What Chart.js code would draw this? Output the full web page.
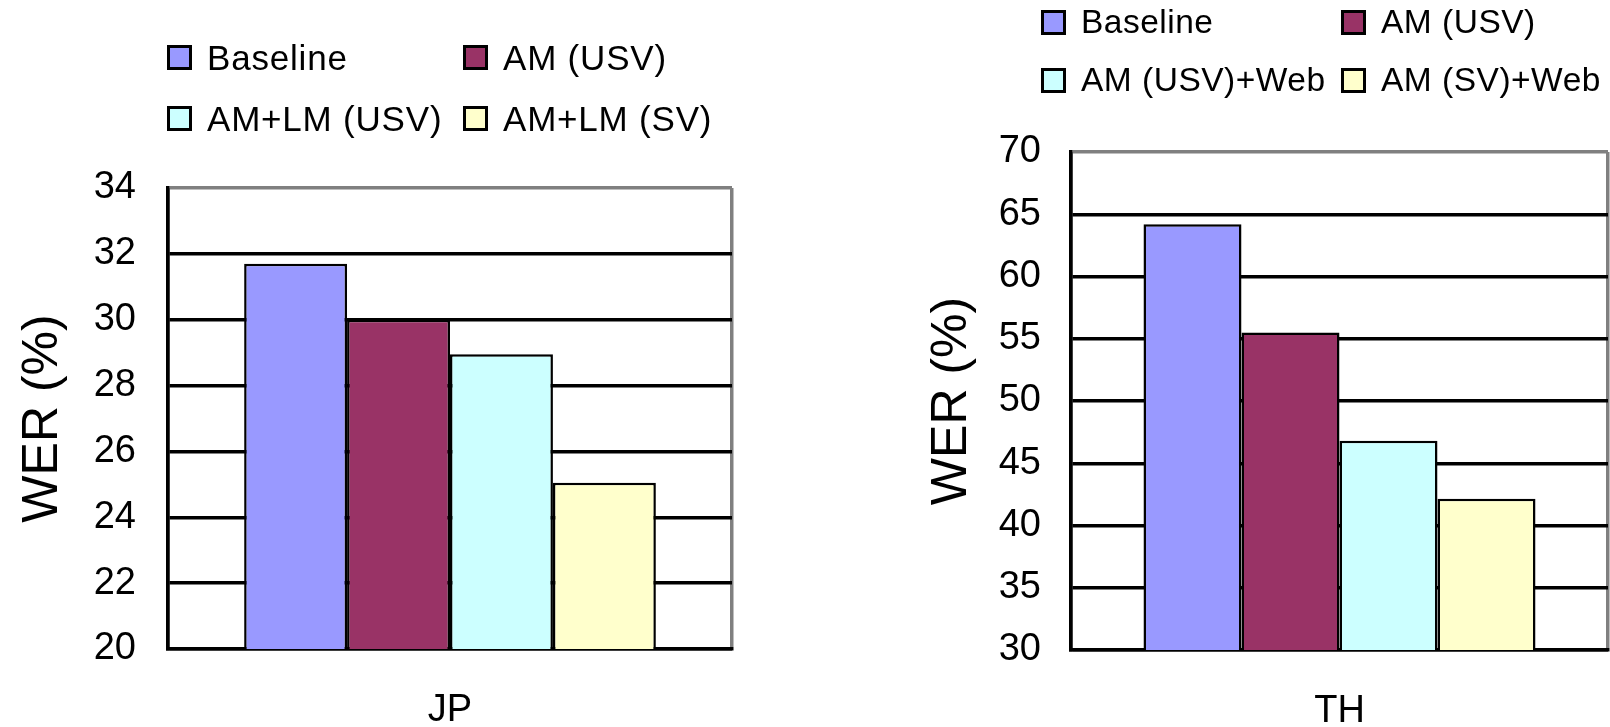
<!DOCTYPE html>
<html>
<head>
<meta charset="utf-8">
<script src="https://cdn.jsdelivr.net/npm/chart.js@4"></script>
<style>
  body { margin: 0; background: #fff; }
  #wrap { position: relative; width: 1610px; height: 727px; overflow: hidden; font-family: "Liberation Sans", Arial, sans-serif; }
  .box { position: absolute; top: 0; }
  .legend { position: absolute; display: grid; }
  .item { display: flex; align-items: center; color: #000; white-space: nowrap; }
  #jpLegend .item { font-size: 35px; letter-spacing: 0.8px; }
  #thLegend .item { font-size: 33.5px; letter-spacing: 0.5px; }
  .swatch { width: 25px; height: 25px; border: 3px solid #000; box-sizing: border-box; margin-right: 15px; flex: none; }
</style>
</head>
<body>
<div id="wrap">
  <div class="box" style="left:0;width:760px;height:727px"><canvas id="jp" width="760" height="727"></canvas></div>
  <div class="box" style="left:890px;width:720px;height:727px"><canvas id="th" width="720" height="727"></canvas></div>
  <div id="jpLegend" class="legend" style="left:167px;top:27px;grid-template-columns:296px 296px;grid-auto-rows:61px"></div>
  <div id="thLegend" class="legend" style="left:1041px;top:-7px;grid-template-columns:300px 270px;grid-auto-rows:58px"></div>
</div>
<script>
// JP chart
const jpCategories = ['JP'];
const jpSeries = ['Baseline', 'AM (USV)', 'AM+LM (USV)', 'AM+LM (SV)'];
const jpWer = [31.7, 30.0, 28.95, 25.05];
const jpTicks = [20, 22, 24, 26, 28, 30, 32, 34];

// TH chart
const thCategories = ['TH'];
const thSeries = ['Baseline', 'AM (USV)', 'AM (USV)+Web', 'AM (SV)+Web'];
const thWer = [64.2, 55.5, 46.8, 42.15];
const thTicks = [30, 35, 40, 45, 50, 55, 60, 65, 70];

const fills = ['#9999FF', '#993366', '#CCFFFF', '#FFFFCC'];
const FONT = '"Liberation Sans", Arial, sans-serif';

function makeChart(id, categories, series, values, ticks, lay) {
  const datasets = series.map((name, i) => ({
    label: name,
    data: [values[i]],
    backgroundColor: fills[i],
    borderColor: '#000',
    borderWidth: 2.5
  }));
  const lo = ticks[0], hi = ticks[ticks.length - 1];
  return new Chart(document.getElementById(id), {
    type: 'bar',
    data: { labels: categories, datasets: datasets },
    options: {
      responsive: false,
      animation: false,
      devicePixelRatio: 1,
      categoryPercentage: 0.73,
      barPercentage: 1.0,
      layout: { padding: { top: lay.top, right: lay.right, left: 0, bottom: 0 } },
      plugins: { legend: { display: false }, tooltip: { enabled: false } },
      scales: {
        x: {
          grid: {
            offset: true,
            drawTicks: false,
            lineWidth: 3.5,
            color: ctx => ctx.type === 'tick' ? '#000' : '#808080'
          },
          border: { color: '#000', width: 3.5 },
          ticks: { color: '#000', padding: 39, font: { family: FONT, size: 38 } },
          afterFit: s => { s.height = lay.xHeight; }
        },
        y: {
          min: lo,
          max: hi,
          afterBuildTicks: s => { s.ticks = ticks.map(v => ({ value: v })); },
          grid: {
            drawTicks: false,
            lineWidth: 3.5,
            color: ctx => ctx.tick && ctx.tick.value === hi ? '#808080' : '#000'
          },
          border: { color: '#000', width: 3.5 },
          ticks: { color: '#000', padding: lay.tickPad, font: { family: FONT, size: 38 } },
          title: {
            display: true,
            text: 'WER (%)',
            color: '#000',
            padding: { top: lay.titlePad, bottom: 0 },
            font: { family: FONT, size: 50 }
          },
          afterFit: s => { s.width = lay.yWidth; }
        }
      }
    }
  });
}

function makeLegend(id, series) {
  const el = document.getElementById(id);
  series.forEach((name, i) => {
    const item = document.createElement('div');
    item.className = 'item';
    const sw = document.createElement('span');
    sw.className = 'swatch';
    sw.style.background = fills[i];
    item.appendChild(sw);
    item.appendChild(document.createTextNode(name));
    el.appendChild(item);
  });
}

makeChart('jp', jpCategories, jpSeries, jpWer, jpTicks,
  { top: 188, right: 28, xHeight: 78, yWidth: 168, tickPad: 32, titlePad: 13 });
makeChart('th', thCategories, thSeries, thWer, thTicks,
  { top: 152, right: 2, xHeight: 77, yWidth: 181, tickPad: 30, titlePad: 32 });
makeLegend('jpLegend', jpSeries);
makeLegend('thLegend', thSeries);
</script>
</body>
</html>
